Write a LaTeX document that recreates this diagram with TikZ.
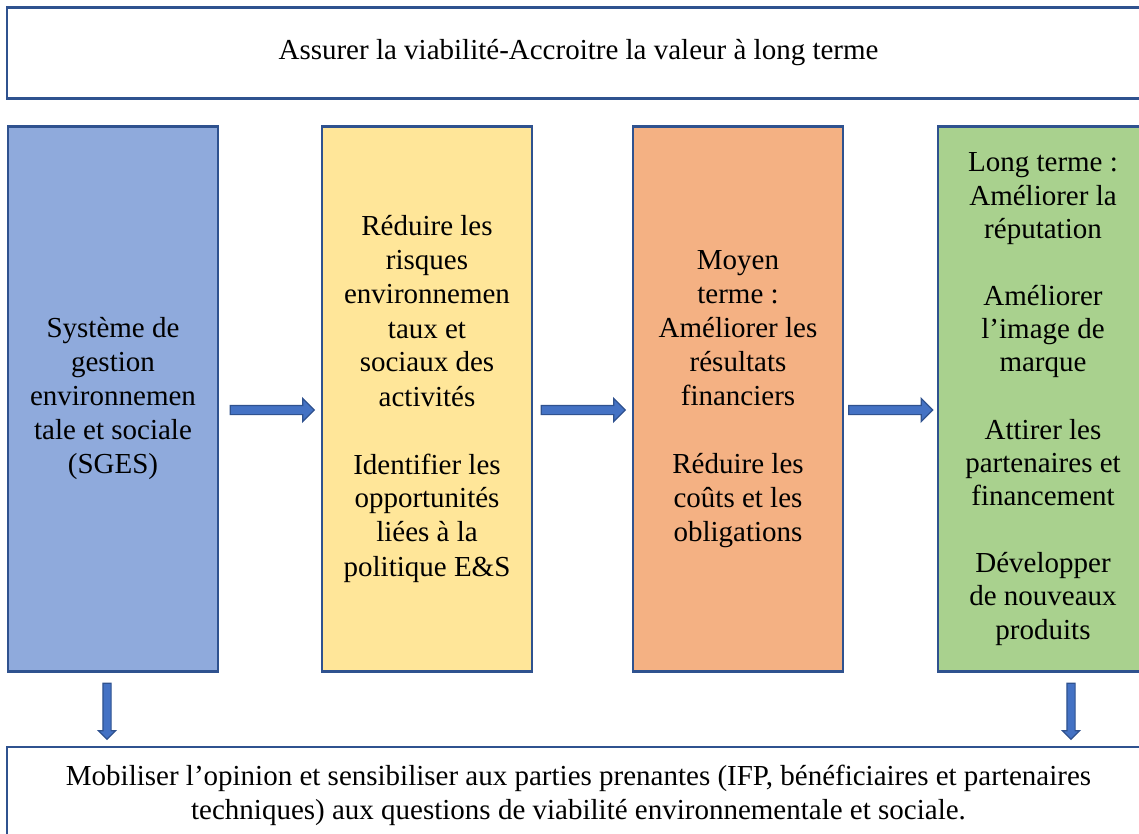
\documentclass[tikz,border=0pt]{standalone}
\usepackage{fontspec}
\setmainfont{Liberation Serif}
\usepackage{xcolor}
\usetikzlibrary{shapes.arrows, positioning, calc}

\definecolor{edgeblue}{HTML}{2F528F}
\definecolor{arrowblue}{HTML}{4472C4}
\definecolor{boxblue}{HTML}{8FAADC}
\definecolor{boxyellow}{HTML}{FFE699}
\definecolor{boxorange}{HTML}{F4B183}
\definecolor{boxgreen}{HTML}{A9D18E}

\tikzset{
  wide/.style={draw=edgeblue, line width=1.1pt, fill=white, minimum width=571.5pt,
    align=center, inner sep=0pt},
  stage/.style={draw=edgeblue, line width=1.1pt, minimum width=105pt, minimum height=272.5pt,
    align=center, inner sep=0pt},
  harrow/.style={single arrow, draw=edgeblue, fill=arrowblue, line width=0.6pt,
    minimum height=42pt, inner sep=2pt, single arrow head extend=3.5pt,
    text height=0pt, text depth=0pt, text width=0pt, outer sep=0pt},
  varrow/.style={harrow, shape border rotate=270, minimum height=28pt, inner sep=1.75pt,
    single arrow head extend=2.25pt}
}

\begin{document}
\begin{tikzpicture}[x=0.5pt, y=-0.5pt,
  font=\fontsize{14.5}{17}\selectfont]
\useasboundingbox (0,0) rectangle (1139,834);
\clip (0,0) rectangle (1139,834);

% top goal
\node[wide, minimum height=45.5pt] (goal) at (578.5,53)
  {Assurer la viabilité-Accroitre la valeur à long terme};

% four stages
\node[stage, fill=boxblue] (sges) at (113,399)
  {Système de\\gestion\\environnemen\\tale et sociale\\(SGES)};
\node[stage, fill=boxyellow] (risk) at (427,399)
  {Réduire les\\risques\\environnemen\\taux et\\sociaux des\\activités\\[17pt]
   Identifier les\\opportunités\\liées à la\\politique E\&S};
\node[stage, fill=boxorange] (mid) at (738,399)
  {Moyen\\terme :\\Améliorer les\\résultats\\financiers\\[17pt]
   Réduire les\\coûts et les\\obligations};
\node[stage, fill=boxgreen, font=\fontsize{14.5}{16.6}\selectfont] (long) at (1043,399)
  {Long terme :\\Améliorer la\\réputation\\[17pt]
   Améliorer\\l’image de\\marque\\[17pt]
   Attirer les\\partenaires et\\financement\\[17pt]
   Développer\\de nouveaux\\produits};

% bottom
\node[wide, minimum height=48pt] (stake) at (578.5,795)
  {Mobiliser l’opinion et sensibiliser aux parties prenantes (IFP, bénéficiaires et partenaires\\
   techniques) aux questions de viabilité environnementale et sociale.};

% arrows
\node[harrow] (a1) at (270,410) {};
\node[harrow] (a2) at (581,410) {};
\node[harrow] (a3) at (888.5,410) {};
\node[varrow] (d1) at ($(sges.south)!0.5!(sges.south |- stake.north)+(-6,0)$) {};
\node[varrow] (d2) at ($(long.south)!0.5!(long.south |- stake.north)+(28,0)$) {};
\end{tikzpicture}
\end{document}
